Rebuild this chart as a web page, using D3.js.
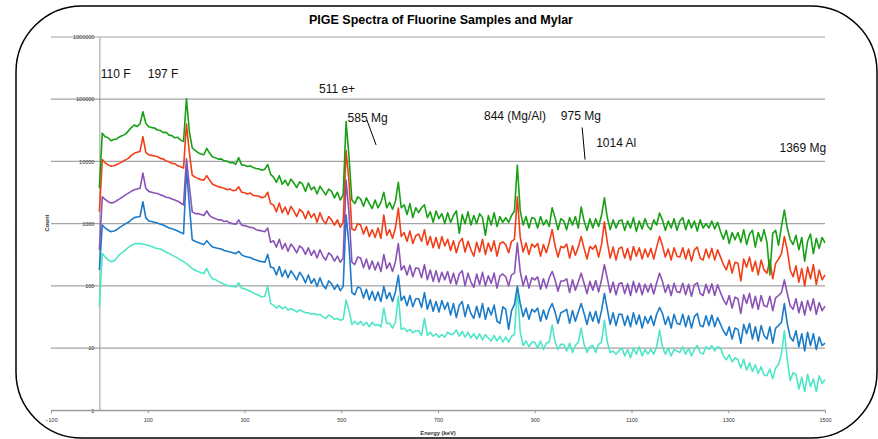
<!DOCTYPE html>
<html lang="en">
<head>
  <meta charset="UTF-8">
  <script src="https://d3js.org/d3.v7.min.js"></script>
  <title>PIGE Spectra of Fluorine Samples and Mylar</title>
  <style>
    body { margin: 0; background: #fff; }
    svg { display: block; font-family: "Liberation Sans", Arial, sans-serif; }
  </style>
</head>
<body>
  <svg width="878" height="439"></svg>
  <script>
    // energy channel (keV), one reading every 6 keV
    const energy = d3.range(0, 1501, 6);

    // counts, top trace to bottom trace
    const specGreen = [
      3700, 28500, 25000, 24000, 21500, 22500, 23000, 25000, 26000, 27500,
      31000, 35000, 38500, 36500, 40000, 63000, 41000, 36000, 35000, 34500,
      32000, 31500, 29000, 29500, 26500, 26000, 24000, 24500, 22000, 21000,
      102000, 30000, 16500, 15000, 13800, 13200, 12800, 16200, 13500, 11800,
      11500, 10900, 11000, 10200, 10100, 9500, 9600, 9000, 11500, 8800,
      8700, 8300, 8500, 8000, 7700, 7600, 7200, 7500, 8900, 6200,
      5600, 4600, 5900, 4300, 5000, 4100, 5200, 4500, 3800, 4700,
      4300, 3300, 4500, 3500, 3900, 3000, 4000, 3400, 2900, 3600,
      3300, 2600, 3200, 2400, 2900, 43600, 12000, 2400, 2100, 2700,
      2500, 1900, 2600, 2100, 1750, 2400, 1800, 2200, 3200, 1800,
      2200, 1700, 2300, 4600, 1800, 2000, 1400, 2100, 1250, 1800,
      1500, 1800, 2000, 1250, 1550, 1050, 1600, 1200, 1450, 1000,
      1500, 1050, 1350, 1600, 700, 1400, 1000, 1550, 950, 1350,
      1000, 1450, 1250, 650, 1350, 950, 1500, 900, 1300, 1050,
      1250, 1050, 1350, 1600, 8700, 1600, 950, 1300, 850, 1250,
      1200, 850, 1300, 950, 1150, 900, 1800, 1250, 800, 1200,
      1100, 800, 1250, 950, 1300, 850, 1850, 1100, 780, 1200,
      850, 1200, 900, 1350, 2600, 1250, 800, 1150, 850, 1100,
      1150, 780, 1100, 850, 1250, 750, 1100, 820, 1200, 900,
      800, 1150, 950, 1480, 1150, 780, 1100, 850, 1200, 780,
      1100, 1250, 800, 1150, 850, 1100, 760, 1150, 850, 1000,
      850, 1100, 820, 1050, 750, 560, 780, 480, 720, 550,
      720, 500, 800, 460, 680, 780, 420, 720, 520, 800,
      500, 150, 700, 780, 450, 900, 1660, 850, 560, 460,
      650, 380, 600, 250, 520, 680, 330, 580, 400, 600,
      490
    ];
    const specRed = [
      1550, 10700, 9500, 8800, 8400, 8500, 8900, 9400, 10000, 10600,
      11200, 12500, 13500, 14000, 14500, 25000, 14000, 12800, 12500, 12200,
      12000, 11200, 11000, 10200, 9900, 9300, 9200, 8500, 8200, 7800,
      40000, 14000, 6000, 5600, 5300, 5100, 5000, 5900, 5000, 4300,
      4100, 3900, 3800, 3700, 3500, 3600, 3400, 3450, 3900, 3200,
      3150, 3000, 3100, 2850, 2800, 2750, 2600, 2700, 3200, 2100,
      2000, 1550, 2150, 1500, 1850, 1400, 1900, 1600, 1300, 1700,
      1550, 1200, 1600, 1250, 1450, 1050, 1500, 1150, 1000, 1300,
      1150, 950, 1150, 880, 1050, 15000, 4800, 820, 780, 1000,
      950, 680, 900, 620, 800, 600, 850, 580, 1380, 650,
      800, 580, 850, 1780, 620, 720, 520, 760, 480, 640,
      680, 520, 800, 450, 620, 410, 600, 400, 620, 440,
      560, 370, 530, 340, 500, 580, 350, 520, 380, 300,
      500, 350, 560, 320, 490, 360, 530, 300, 480, 510,
      460, 340, 520, 560, 2700, 600, 350, 490, 320, 470,
      420, 480, 300, 460, 340, 500, 800, 440, 290, 430,
      410, 470, 280, 440, 310, 420, 620, 400, 270, 430,
      390, 450, 290, 460, 1070, 500, 280, 420, 260, 400,
      420, 280, 400, 260, 430, 300, 410, 270, 390, 290,
      400, 270, 420, 620, 440, 290, 390, 260, 410, 300,
      290, 410, 270, 390, 250, 380, 420, 280, 260, 390,
      280, 400, 260, 380, 290, 220, 180, 260, 160, 240,
      230, 120, 270, 200, 290, 170, 250, 150, 260, 180,
      160, 260, 130, 230, 270, 330, 620, 380, 180, 140,
      210, 115, 190, 100, 200, 130, 220, 105, 180, 125,
      150
    ];
    const specPurple = [
      380, 2700, 2450, 2250, 2150, 2200, 2350, 2500, 2700, 2900,
      3100, 3300, 3500, 3600, 3700, 6500, 3700, 3300, 3200, 3100,
      3050, 2900, 2800, 2650, 2600, 2500, 2400, 2300, 2150, 2000,
      11000, 4000, 1550, 1450, 1450, 1400, 1350, 1600, 1350, 1250,
      1200, 1150, 1150, 1080, 1100, 1020, 1000, 980, 1150, 950,
      930, 900, 870, 860, 800, 780, 760, 740, 850, 500,
      530, 420, 560, 390, 480, 360, 470, 410, 340, 440,
      400, 320, 410, 310, 370, 280, 380, 300, 260, 340,
      310, 250, 300, 240, 280, 5000, 1500, 240, 220, 290,
      280, 195, 270, 185, 250, 180, 240, 170, 320, 190,
      235, 170, 245, 480, 180, 210, 150, 215, 140, 195,
      190, 135, 220, 125, 180, 118, 175, 115, 165, 125,
      170, 110, 160, 105, 155, 175, 100, 160, 115, 95,
      155, 105, 165, 100, 145, 110, 160, 92, 145, 155,
      140, 100, 150, 160, 490, 170, 100, 145, 92, 135,
      125, 140, 88, 130, 92, 135, 170, 125, 82, 120,
      120, 130, 78, 125, 85, 115, 160, 110, 75, 118,
      85, 122, 80, 125, 220, 132, 78, 115, 72, 108,
      112, 75, 108, 70, 118, 78, 110, 72, 106, 80,
      108, 74, 112, 160, 118, 78, 104, 70, 110, 80,
      78, 110, 72, 106, 68, 104, 112, 76, 70, 106,
      76, 108, 70, 104, 78, 60, 50, 70, 44, 66,
      62, 36, 72, 52, 76, 44, 68, 42, 70, 48,
      46, 68, 40, 64, 70, 78, 125, 76, 48, 42,
      62, 37, 56, 34, 58, 40, 62, 35, 54, 40,
      47
    ];
    const specBlue = [
      180, 950, 850, 790, 740, 760, 800, 870, 930, 1000,
      1050, 1150, 1250, 1280, 1300, 2250, 1250, 1100, 1080, 1050,
      1030, 980, 950, 900, 850, 830, 800, 760, 720, 690,
      7500, 2000, 550, 520, 500, 480, 460, 530, 470, 420,
      410, 400, 390, 370, 360, 350, 340, 330, 360, 315,
      300, 290, 285, 270, 260, 250, 245, 240, 320, 200,
      195, 150, 205, 140, 180, 135, 175, 150, 125, 165,
      142, 112, 150, 110, 130, 98, 135, 102, 90, 120,
      108, 88, 105, 84, 98, 1380, 450, 78, 72, 96,
      92, 64, 88, 60, 82, 58, 80, 56, 98, 62,
      78, 56, 80, 148, 58, 68, 48, 70, 46, 62,
      62, 45, 78, 42, 60, 39, 56, 38, 58, 42,
      54, 34, 52, 31, 49, 56, 32, 50, 36, 30,
      47, 31, 52, 29, 45, 34, 49, 27, 25, 46,
      42, 20, 40, 50, 98, 52, 32, 44, 29, 42,
      38, 44, 27, 41, 29, 42, 52, 38, 25, 37,
      39, 42, 25, 40, 27, 38, 52, 36, 24, 38,
      27, 39, 25, 40, 76, 42, 24, 37, 23, 35,
      35, 23, 33, 22, 37, 24, 34, 21, 32, 25,
      33, 23, 35, 45, 36, 24, 32, 21, 35, 25,
      24, 35, 22, 33, 21, 32, 36, 23, 22, 33,
      23, 34, 22, 31, 24, 19, 16, 22, 14, 21,
      20, 12, 24, 17, 25, 14, 22, 13, 23, 16,
      14, 22, 12, 21, 23, 26, 52, 25, 15, 13,
      19, 10.5, 17, 9, 18, 11, 17, 9.5, 15, 11,
      12
    ];
    const specCyan = [
      46, 330, 290, 260, 245, 250, 280, 320, 345, 380,
      415, 445, 470, 480, 478, 472, 458, 445, 428, 410,
      400, 390, 370, 350, 330, 315, 295, 280, 260, 245,
      228, 210, 190, 178, 170, 162, 158, 190, 150, 130,
      126, 118, 112, 106, 102, 100, 98, 96, 112, 92,
      90, 86, 82, 77, 73, 70, 66, 68, 100, 52,
      49, 44, 48, 43, 46, 41, 43, 41, 38, 41,
      39, 37, 37, 35, 36, 34, 35, 32, 30, 34,
      32, 29, 30, 28, 29, 59, 40, 24, 27, 24,
      27, 23, 26, 22, 26, 23, 24, 22, 44, 25,
      25, 21, 26, 68, 20, 21, 18.5, 20, 17.5, 19,
      19, 16, 30, 16, 18, 15.5, 17, 15, 16.5, 15,
      18, 16.5, 17, 19.5, 15.5, 18.5, 15, 18, 14.5, 17,
      14, 17, 13.5, 16.5, 14.5, 13, 16, 13, 15.5, 12.5,
      15, 12.5, 15.5, 16.5, 91, 18, 11, 13, 10.5, 12.5,
      12.5, 10, 13, 9.5, 12, 12.5, 23.5, 12.5, 9.5, 11.5,
      11.5, 9, 12, 8.5, 11, 12.5, 21, 11.5, 8.5, 10.5,
      11, 8.5, 11.5, 12.5, 28, 12.5, 8.5, 9, 8, 9,
      10, 7.5, 9.5, 7, 10, 8, 10.5, 7.5, 9.5, 8,
      9.5, 8, 10.5, 19.5, 10.5, 8, 10, 7.5, 9.5, 9,
      8.5, 10.5, 8, 10, 7.5, 9.5, 11, 8.5, 8, 10.5,
      9.5, 11, 9, 10.5, 10, 7.5, 6.5, 7.8, 6, 7,
      6.5, 4.8, 6.6, 4.4, 5.8, 4.2, 5.4, 3.9, 5.0, 3.7,
      3.6, 4.6, 3.2, 4.8, 5.5, 8, 19, 6.5, 3.0, 4.0,
      3.8, 2.2, 3.4, 2.0, 3.8, 2.4, 3.2, 2.0, 3.6, 2.7,
      3.1
    ];

    const xTicks = [-100, 100, 300, 500, 700, 900, 1100, 1300, 1500];
    const yTicks = [1, 10, 100, 1000, 10000, 100000, 1000000];

    // peak labels, anchored at [keV, count]
    const peakLabels = ["110 F", "197 F", "511 e+", "585 Mg", "844 (Mg/Al)", "975 Mg", "1014 Al", "1369 Mg"];
    const peakLabelAt = [[3, 220000], [100, 220000], [454, 126000], [513, 43500],
                         [795, 47000], [954, 46000], [1027, 17000], [1406, 14300]];
    // leader lines for 585 Mg and 975 Mg
    const leaders = [[[553, 46300], [572, 18400]], [[998, 35100], [1004, 10700]]];

    // bottom trace drawn first, green ends up on top
    const series = [
      { values: specCyan, color: "#4ee6c6" },
      { values: specBlue, color: "#1a7bc9" },
      { values: specPurple, color: "#8a52b6" },
      { values: specRed, color: "#f23d17" },
      { values: specGreen, color: "#17a015" }
    ];

    const svg = d3.select("svg");
    const xScale = d3.scaleLinear().domain([-100, 1500]).range([51, 825]);
    const yScale = d3.scaleLog().domain([1, 1e6]).range([410.3, 37]);

    // chart frame with rounded corners
    svg.append("rect")
      .attr("x", 16).attr("y", 6)
      .attr("width", 861).attr("height", 432)
      .attr("rx", 66).attr("ry", 66)
      .style("fill", "white")
      .style("stroke", "black")
      .style("stroke-width", "1.5px");

    svg.append("text")
      .attr("x", 441).attr("y", 24)
      .attr("text-anchor", "middle")
      .style("font-weight", "bold")
      .style("font-size", "12.5px")
      .text("PIGE Spectra of Fluorine Samples and Mylar");

    // horizontal gridlines across the whole plot area
    svg.append("g")
      .attr("id", "gridG")
      .selectAll("line")
      .data(yTicks)
      .enter()
      .append("line")
      .attr("x1", xScale(-100))
      .attr("x2", xScale(1500))
      .attr("y1", d => yScale(d))
      .attr("y2", d => yScale(d))
      .style("stroke", "#a3a3a3")
      .style("stroke-width", "1.2px");

    // y axis sits at 0 keV
    const yAxis = d3.axisLeft(yScale)
      .tickValues(yTicks)
      .tickSize(0)
      .tickPadding(5)
      .tickFormat(d3.format("d"));

    svg.append("g")
      .attr("id", "yAxisG")
      .attr("transform", `translate(${xScale(0)},0)`)
      .call(yAxis);

    const xAxis = d3.axisBottom(xScale)
      .tickValues(xTicks)
      .tickSize(3)
      .tickSizeOuter(0)
      .tickPadding(5)
      .tickFormat(d3.format("d"));

    svg.append("g")
      .attr("id", "xAxisG")
      .attr("transform", `translate(0,${yScale(1)})`)
      .call(xAxis);

    svg.selectAll("#xAxisG path.domain, #xAxisG line, #yAxisG path.domain")
      .style("stroke", "#999");
    svg.selectAll("#xAxisG text, #yAxisG text")
      .style("font-size", "5.5px")
      .style("fill", "#333");

    svg.append("text")
      .attr("x", 438).attr("y", 434.5)
      .attr("text-anchor", "middle")
      .style("font-size", "5.8px")
      .style("font-weight", "bold")
      .style("fill", "#333")
      .text("Energy (keV)");

    svg.append("text")
      .attr("transform", "translate(49,223) rotate(-90)")
      .attr("text-anchor", "middle")
      .style("font-size", "5.8px")
      .style("font-weight", "bold")
      .style("fill", "#333")
      .text("Count");

    // spectra
    const line = d3.line()
      .x((d, i) => xScale(energy[i]))
      .y(d => yScale(d));

    svg.append("g")
      .attr("id", "spectraG")
      .selectAll("path")
      .data(series)
      .enter()
      .append("path")
      .attr("d", d => line(d.values))
      .style("fill", "none")
      .style("stroke", d => d.color)
      .style("stroke-width", "1.6px")
      .style("stroke-linejoin", "round");

    // peak labels and leader lines
    svg.append("g")
      .attr("id", "labelG")
      .selectAll("text")
      .data(peakLabels)
      .enter()
      .append("text")
      .attr("x", (d, i) => xScale(peakLabelAt[i][0]))
      .attr("y", (d, i) => yScale(peakLabelAt[i][1]))
      .style("font-size", "12px")
      .style("fill", "#111")
      .text(d => d);

    svg.append("g")
      .attr("id", "leaderG")
      .selectAll("line")
      .data(leaders)
      .enter()
      .append("line")
      .attr("x1", d => xScale(d[0][0]))
      .attr("y1", d => yScale(d[0][1]))
      .attr("x2", d => xScale(d[1][0]))
      .attr("y2", d => yScale(d[1][1]))
      .style("stroke", "black")
      .style("stroke-width", "1px");
  </script>
</body>
</html>
